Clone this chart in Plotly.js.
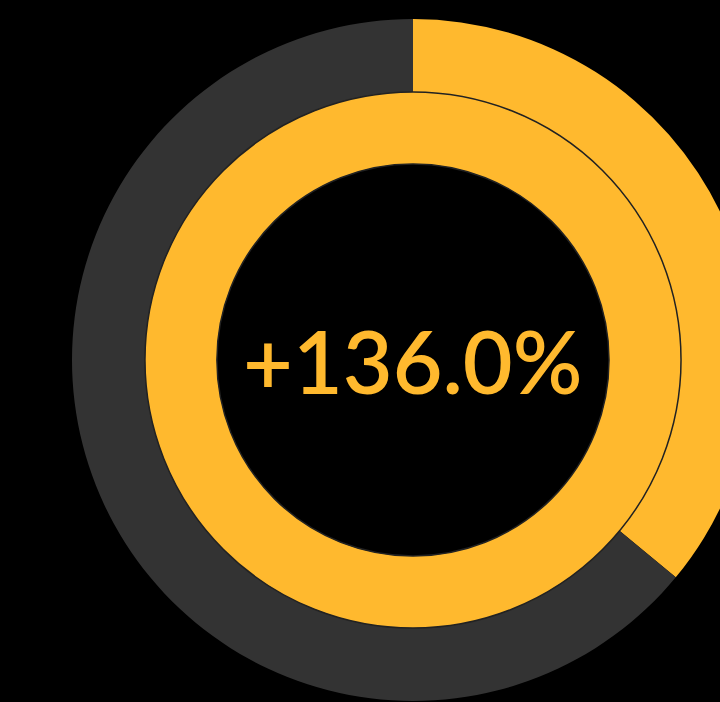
<!DOCTYPE html>
<html>
<head>
<meta charset="utf-8">
<script src="https://cdn.plot.ly/plotly-3.0.1.min.js"></script>
<style>
html, body { margin: 0; padding: 0; background: #000; overflow: hidden; width: 720px; height: 702px; }
#chart { width: 754px; height: 702px; }
</style>
</head>
<body>
<div id="chart"></div>
<script>
// Data
var outerLabels = ['Excess', 'Remainder'];
var outerValues = [36, 64];
var innerLabels = ['Full'];
var innerValues = [100];
var centerLabel = '+136.0%';

var yellow = '#FFB92E';
var grey = '#333333';

var traces = [
  {
    type: 'pie',
    labels: outerLabels,
    values: outerValues,
    hole: 268 / 341,
    sort: false,
    direction: 'clockwise',
    rotation: 0,
    textinfo: 'none',
    hoverinfo: 'none',
    marker: { colors: [yellow, grey], line: { width: 0 } },
    domain: { x: [0, 1], y: [0, 1] },
    showlegend: false
  },
  {
    type: 'pie',
    labels: innerLabels,
    values: innerValues,
    hole: 196 / 268,
    sort: false,
    direction: 'clockwise',
    rotation: 0,
    textinfo: 'none',
    hoverinfo: 'none',
    marker: { colors: [yellow], line: { color: '#222222', width: 1.5 } },
    domain: { x: [0.107, 0.893], y: [0.107, 0.893] },
    showlegend: false
  }
];

var layout = {
  width: 754,
  height: 702,
  margin: { l: 72, r: 0, t: 19, b: 1 },
  paper_bgcolor: '#000000',
  plot_bgcolor: '#000000',
  showlegend: false,
  annotations: [{
    text: centerLabel,
    x: 0.5, y: 0.5, xref: 'paper', yref: 'paper',
    xanchor: 'center', yanchor: 'middle',
    showarrow: false,
    font: { family: 'Lato', size: 86, weight: 600, color: yellow }
  }]
};

Plotly.newPlot('chart', traces, layout, { displayModeBar: false, staticPlot: true });
</script>
</body>
</html>
